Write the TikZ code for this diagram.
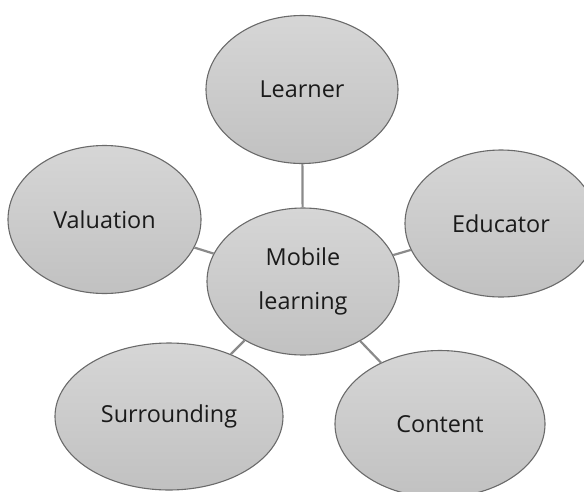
\documentclass[tikz,border=0pt]{standalone}
\usepackage{fontspec}
\setmainfont{Open Sans}
\usetikzlibrary{shapes.geometric}
\definecolor{fillTop}{HTML}{D6D6D6}
\definecolor{fillBot}{HTML}{C1C1C1}
\definecolor{edgeGray}{HTML}{6A6A6A}
\definecolor{linkGray}{HTML}{8A8A8A}
\definecolor{txt}{HTML}{1A1A1A}
\begin{document}
\begin{tikzpicture}[x=1pt,y=-1pt,
  bubble/.style={ellipse, draw=edgeGray, line width=1.1pt, top color=fillTop, bottom color=fillBot,
    inner sep=0pt, align=center, text=txt, font=\fontsize{23.4}{44}\selectfont},
  linkline/.style={draw=linkGray, line width=2.2pt}]
\useasboundingbox (0,0) rectangle (584,491);
\clip (0,0) rectangle (584,491);
\node[bubble, minimum width=192pt, minimum height=148pt] (learner) at (302,89.5) {Learner};
\node[bubble, minimum width=192pt, minimum height=147pt] (mobile) at (303,281.5) {Mobile\\learning};
\node[bubble, minimum width=193pt, minimum height=148pt] (valuation) at (104.5,219.5) {Valuation};
\node[bubble, minimum width=192pt, minimum height=147pt] (educator) at (501,223.5) {Educator};
\node[bubble, minimum width=228pt, minimum height=147pt] (surrounding) at (169,416.5) {Surrounding};
\node[bubble, minimum width=210pt, minimum height=147pt] (content) at (440,424) {Content};
\draw[linkline] (mobile) -- (learner);
\draw[linkline] (mobile) -- (valuation);
\draw[linkline] (mobile) -- (educator);
\draw[linkline] (mobile) -- (surrounding);
\draw[linkline] (mobile) -- (content);
\end{tikzpicture}
\end{document}
